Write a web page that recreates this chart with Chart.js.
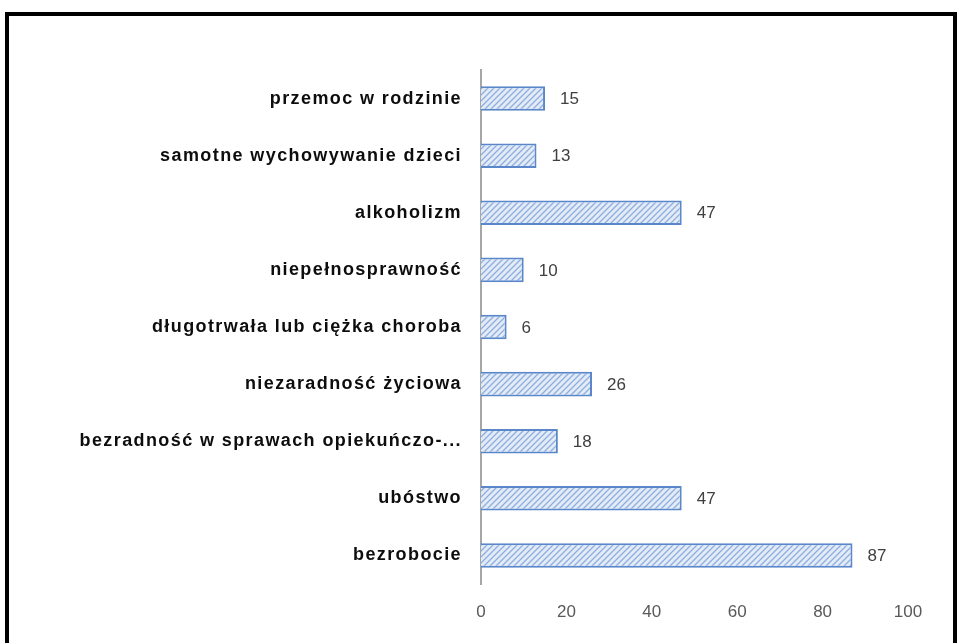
<html>
<head>
<meta charset="UTF-8">
<title>Problemy</title>
<style>
  body { margin: 0; background: #fff; }
  .frame { position: absolute; left: 5px; top: 12px; width: 944px; height: 700px; border: 4px solid #000; }
  .wrap { position: absolute; left: 0; top: 0; width: 960px; height: 643px; }
</style>
</head>
<body>
<div class="frame"></div>
<div class="wrap"><canvas id="chart" width="960" height="643"></canvas></div>
<script src="https://cdn.jsdelivr.net/npm/chart.js"></script>
<script>
const categories = [
  'przemoc w rodzinie',
  'samotne wychowywanie dzieci',
  'alkoholizm',
  'niepełnosprawność',
  'długotrwała lub ciężka choroba',
  'niezaradność życiowa',
  'bezradność w sprawach opiekuńczo-...',
  'ubóstwo',
  'bezrobocie'
];
const values = [15, 13, 47, 10, 6, 26, 18, 47, 87];
const xTicks = [0, 20, 40, 60, 80, 100];

// hatch fill like the original
function hatch() {
  const c = document.createElement('canvas');
  c.width = 6; c.height = 6;
  const g = c.getContext('2d');
  g.fillStyle = '#e3ebf7';
  g.fillRect(0, 0, 6, 6);
  g.strokeStyle = '#8eaee0';
  g.lineWidth = 1.3;
  g.beginPath();
  g.moveTo(0, 6); g.lineTo(6, 0);
  g.moveTo(-3, 3); g.lineTo(3, -3);
  g.moveTo(3, 9); g.lineTo(9, 3);
  g.stroke();
  return g.createPattern(c, 'repeat');
}

// wide category labels (y axis drawn first), normal spacing for the rest
const spacing = {
  id: 'spacing',
  beforeDraw(chart) { chart.ctx.letterSpacing = '1.4px'; },
  afterDatasetsDraw(chart) {
    const ctx = chart.ctx;
    ctx.letterSpacing = '0px';
    const meta = chart.getDatasetMeta(0);
    ctx.save();
    ctx.font = '17px "Liberation Sans", sans-serif';
    ctx.fillStyle = '#404040';
    ctx.textBaseline = 'middle';
    meta.data.forEach((bar, i) => {
      ctx.fillText(values[i], bar.x + 15, bar.y + 1);
    });
    ctx.restore();
  }
};

const ctx = document.getElementById('chart').getContext('2d');
new Chart(ctx, {
  type: 'bar',
  data: {
    labels: categories,
    datasets: [{
      data: values,
      backgroundColor: hatch(),
      borderColor: '#5a87c9',
      borderWidth: 2,
      barPercentage: 0.43,
      categoryPercentage: 1
    }]
  },
  options: {
    indexAxis: 'y',
    responsive: false,
    animation: false,
    layout: { padding: { left: 10, right: 52, top: 70, bottom: 14 } },
    plugins: { legend: { display: false }, tooltip: { enabled: false } },
    scales: {
      x: {
        min: 0, max: 100,
        afterBuildTicks(scale) { scale.ticks = xTicks.map(v => ({ value: v })); },
        grid: { display: false, drawTicks: false },
        border: { display: false },
        ticks: { z: 1, color: '#595959', font: { family: '"Liberation Sans", sans-serif', size: 17 }, padding: 18 },
        afterFit(scale) { scale.height = 45; }
      },
      y: {
        grid: { display: false, drawTicks: false },
        border: { display: true, color: '#a6a6a6', width: 2 },
        ticks: { color: '#0d0d0d', font: { family: '"Liberation Sans", sans-serif', size: 18, weight: 'bold' }, padding: 19 },
        afterFit(scale) { scale.width = 471; }
      }
    }
  },
  plugins: [spacing]
});
</script>
</body>
</html>
